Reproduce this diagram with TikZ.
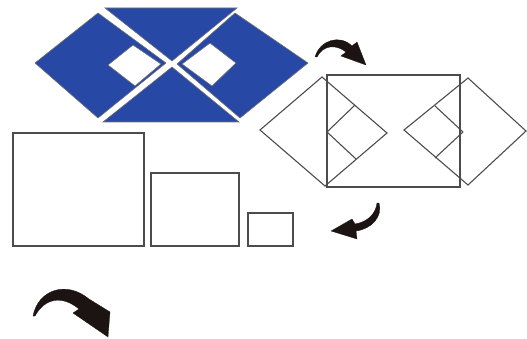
\documentclass[tikz,border=0pt]{standalone}
\usepackage{tikz}
\usetikzlibrary{positioning}

\definecolor{tileblue}{RGB}{40,72,165}
\definecolor{inkblack}{RGB}{28,20,18}

\tikzset{
  piece/.style={fill=tileblue, draw=black!55, line width=0.6pt, even odd rule},
  outline/.style={draw=black!70, line width=1.1pt, line join=miter},
  bent/.style={fill=inkblack, draw=inkblack, line width=0.3pt}
}

\begin{document}
\begin{tikzpicture}[x=1pt, y=-1pt]
        \useasboundingbox (0,0) rectangle (527,339);

        % blue pieces
        \draw[piece] (35,63) -- (98,13) -- (166,63) -- (98,118) -- cycle
                     (108,65) -- (133,45) -- (161,64) -- (135,86) -- cycle;
        \draw[piece] (105,8) -- (237,8) -- (172,61) -- cycle;
        \draw[piece] (103,122) -- (239,122) -- (172,67) -- cycle;
        \draw[piece] (177,64) -- (235,13) -- (308,63) -- (240,118) -- cycle
                     (182,64) -- (210,43) -- (236,63) -- (212,86) -- cycle;

        % rearranged figure
        \coordinate (lw) at (260,130);
        \coordinate (ln) at (322,77);
        \coordinate (le) at (387,133);
        \coordinate (ls) at (325,186);
        \coordinate (rw) at (404,130);
        \coordinate (rn) at (468,78);
        \coordinate (re) at (526,131);
        \coordinate (rs) at (468,185);
        \draw[outline] (327,75) rectangle (460,187);
        \draw[outline] (lw) -- (ln) -- (le) -- (ls) -- cycle;
        \draw[outline] (327,132) -- (355,105) (327,132) -- (356,159);
        \draw[outline] (rw) -- (rn) -- (re) -- (rs) -- cycle;
        \draw[outline] (463,132) -- (435,106) (463,132) -- (435,158);

        % squares
        \draw[outline] (13,133) rectangle (144,246);
        \draw[outline] (151,173) rectangle (239,246);
        \draw[outline] (248,213) rectangle (293,246);

        % curved arrows
        \fill[bent] (315,57) .. controls (320,40) and (340,34) .. (352,46)
                    -- (357,42) -- (366,65) -- (341,56) -- (346,52)
                    .. controls (336,44) and (323,45) .. (317,57) -- cycle;
        \fill[bent] (379,203) .. controls (383,216) and (372,229) .. (356,231)
                    -- (357,239) -- (331,231) -- (352,219) -- (355,224)
                    .. controls (368,222) and (376,213) .. (377,203) -- cycle;
        \fill[bent] (33,316) .. controls (38,290) and (66,280) .. (89,299)
                    -- (110,312) -- (108,337) -- (73,313) -- (79,309)
                    .. controls (62,295) and (45,298) .. (35,316) -- cycle;
\end{tikzpicture}
\end{document}
